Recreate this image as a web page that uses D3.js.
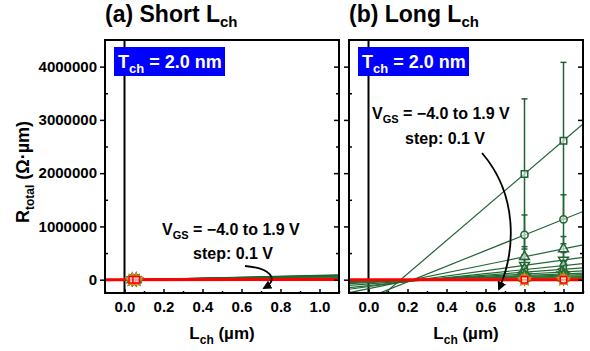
<!DOCTYPE html>
<html>
<head>
<meta charset="utf-8">
<script src="https://cdn.jsdelivr.net/npm/d3@7"></script>
<style>
body { margin: 0; background: #fff; }
svg { font-family: "Liberation Sans", Arial, sans-serif; font-weight: bold; }
</style>
</head>
<body>
<div id="chart"></div>
<script>
// measured channel lengths (µm)
const lchShort = [0.04, 0.06];
const lchLong = [0.8, 1.0];

// R_total (Ω·µm), one entry per V_GS, from −4.0 V (top) down to 1.9 V (bottom)
const shortR1 = [200, 200, 200, 200, 180, 180, 160, 160, 150, 140, 130, 120, 110, 100, 90, 80, 70, 60, 50, 40];
const shortR2 = [1900, 1750, 1600, 1480, 1360, 1250, 1150, 1050, 960, 880, 800, 720, 650, 580, 510, 440, 370, 300, 220, 120];
const shortErr = [300, 280, 260, 240, 220, 200, 180, 160, 150, 140, 130, 120, 110, 100, 90, 80, 70, 60, 50, 40];

const longR08 = [1985000, 840000, 430000, 270000, 190000, 140000, 105000, 80000, 62000, 48000, 37000, 29000, 22000, 17000, 12000, 8000, 5000, 3000, 1500, 500];
const longR10 = [2610000, 1134000, 580000, 370000, 265000, 195000, 145000, 110000, 84000, 65000, 50000, 39000, 30000, 23000, 16000, 11000, 7000, 4000, 2000, 700];
const longErr08 = [1410000, 375000, 190000, 110000, 70000, 50000, 35000, 25000, 18000, 14000, 11000, 9000, 7000, 5000, 4000, 3000, 2000, 1500, 1000, 500];
const longErr10 = [1470000, 460000, 230000, 140000, 90000, 60000, 45000, 35000, 25000, 19000, 15000, 12000, 9000, 7000, 5000, 4000, 3000, 2000, 1000, 500];

const yMajor = [0, 1000000, 2000000, 3000000, 4000000];
const yMinor = [500000, 1500000, 2500000, 3500000];
const xMajor = [0.0, 0.2, 0.4, 0.6, 0.8, 1.0];
const xMinor = [-0.1, 0.1, 0.3, 0.5, 0.7, 0.9, 1.1];

const W = 590, H = 351;
const plotTop = 40, plotBottom = 293;

const svg = d3.select("#chart").append("svg").attr("width", W).attr("height", H);

const y = d3.scaleLinear().domain([-250000, 4500000]).range([plotBottom, plotTop]);

const colorAt = d3.scaleLinear()
    .domain([0, 0.55, 0.75, 0.87, 0.94, 1])
    .range(["#1d6233", "#2b6e34", "#5f8a2c", "#a8962a", "#ff8a1c", "#ff0000"]);

const shapes = [
    {t: d3.symbolSquare, r: 0}, {t: d3.symbolCircle, r: 0}, {t: d3.symbolTriangle, r: 0},
    {t: d3.symbolTriangle, r: 180}, {t: d3.symbolDiamond, r: 0}, {t: d3.symbolTriangle, r: -90},
    {t: d3.symbolTriangle, r: 90}, {t: d3.symbolStar, r: 0}, {t: d3.symbolWye, r: 0}, {t: d3.symbolCross, r: 0}
];

const defs = svg.append("defs");
defs.append("marker").attr("id", "ah").attr("viewBox", "0 0 10 10").attr("refX", 8).attr("refY", 5)
    .attr("markerUnits", "userSpaceOnUse")
    .attr("markerWidth", 9).attr("markerHeight", 9).attr("orient", "auto")
    .append("path").attr("d", "M0,0 L10,5 L0,10 z").attr("fill", "#000");

function panel(id, x0, x1, lchs, rA, rB, eA, eB, title, ann) {
    const x = d3.scaleLinear().domain([-0.1, 1.1]).range([x0, x1]);
    const g = svg.append("g");
    defs.append("clipPath").attr("id", "clip" + id).append("rect")
        .attr("x", x0).attr("y", plotTop).attr("width", x1 - x0).attr("height", plotBottom - plotTop);
    const pg = g.append("g").attr("clip-path", `url(#clip${id})`);

    // zero line at L = 0
    pg.append("line").attr("x1", x(0)).attr("x2", x(0)).attr("y1", plotTop).attr("y2", plotBottom)
        .attr("stroke", "#000").attr("stroke-width", 2);

    const n = rA.length;
    const line = d3.line().x(d => x(d[0])).y(d => y(d[1]));
    for (let i = 0; i < n; i++) {
        const c = colorAt(i / (n - 1));
        const b = (rB[i] - rA[i]) / (lchs[1] - lchs[0]);
        const a = rA[i] - b * lchs[0];
        pg.append("path").datum([[-0.1, a - 0.1 * b], [1.1, a + 1.1 * b]])
            .attr("d", line).attr("fill", "none").attr("stroke", c)
            .attr("stroke-width", i === n - 1 ? 3 : 1.2);
    }
    for (let i = 0; i < n; i++) {
        const c = colorAt(i / (n - 1));
        const sh = i === n - 1 ? shapes[0] : shapes[i % shapes.length];
        [[lchs[0], rA[i], eA[i]], [lchs[1], rB[i], eB[i]]].forEach(([l, r, e]) => {
            const px = x(l);
            pg.append("line").attr("x1", px).attr("x2", px).attr("y1", y(r - e)).attr("y2", y(r + e))
                .attr("stroke", c).attr("stroke-width", 1.5);
            [r - e, r + e].forEach(v => pg.append("line").attr("x1", px - 3).attr("x2", px + 3)
                .attr("y1", y(v)).attr("y2", y(v)).attr("stroke", c).attr("stroke-width", 1.5));
            pg.append("path").attr("d", d3.symbol(sh.t, 42)())
                .attr("transform", `translate(${px},${y(r)}) rotate(${sh.r})`)
                .attr("fill", "#fff").attr("fill-opacity", 0.6)
                .attr("stroke", c).attr("stroke-width", 1.5);
        });
    }

    // axes
    const lab = g.append("g").attr("transform", `translate(${x0},0)`)
        .call(d3.axisLeft(y).tickValues(yMajor).tickSize(5).tickPadding(3).tickFormat(d3.format("d")));
    if (id !== "a") lab.selectAll("text").remove();
    g.append("g").attr("transform", `translate(${x0},0)`).call(d3.axisLeft(y).tickValues(yMinor).tickSize(-3).tickFormat(""));
    g.append("g").attr("transform", `translate(${x1},0)`).call(d3.axisRight(y).tickValues(yMajor).tickSize(-5).tickFormat(""));
    g.append("g").attr("transform", `translate(${x1},0)`).call(d3.axisRight(y).tickValues(yMinor).tickSize(-3).tickFormat(""));
    g.append("g").attr("transform", `translate(0,${plotBottom})`).call(d3.axisBottom(x).tickValues(xMajor).tickSize(-4).tickPadding(8).tickFormat(d3.format(".1f")));
    g.append("g").attr("transform", `translate(0,${plotBottom})`).call(d3.axisBottom(x).tickValues(xMinor).tickSize(-2).tickFormat(""));
    g.selectAll(".domain").remove();
    g.selectAll(".tick line").attr("stroke", "#000").attr("stroke-width", 1.5);
    g.selectAll(".tick text").attr("fill", "#000").attr("font-size", 15).attr("font-family", "Liberation Sans, Arial, sans-serif").attr("font-weight", "bold");

    g.append("rect").attr("x", x0).attr("y", plotTop).attr("width", x1 - x0).attr("height", plotBottom - plotTop)
        .attr("fill", "none").attr("stroke", "#000").attr("stroke-width", 2);

    // title
    const t = g.append("text").attr("x", x0).attr("y", 22).attr("font-size", 23);
    t.append("tspan").text(title);
    t.append("tspan").attr("font-size", 15).attr("dy", 5).text("ch");

    // x label
    const xl = g.append("text").attr("x", (x0 + x1) / 2).attr("y", 339).attr("font-size", 17).attr("text-anchor", "middle");
    xl.append("tspan").text("L");
    xl.append("tspan").attr("font-size", 12).attr("dy", 5).text("ch");
    xl.append("tspan").attr("dy", -5).text(" (µm)");

    // T_ch box
    g.append("rect").attr("x", x0 + 9).attr("y", 47).attr("width", 111).attr("height", 29).attr("fill", "#0000ff");
    const tb = g.append("text").attr("x", x0 + 13).attr("y", 68).attr("font-size", 18).attr("fill", "#fff");
    tb.append("tspan").text("T");
    tb.append("tspan").attr("font-size", 13).attr("dy", 5).text("ch");
    tb.append("tspan").attr("dy", -5).text(" = 2.0 nm");

    // V_GS annotation
    const va = g.append("text").attr("x", ann.vx).attr("y", ann.vy).attr("font-size", 16);
    va.append("tspan").text("V");
    va.append("tspan").attr("font-size", 11).attr("dy", 4).text("GS");
    va.append("tspan").attr("dy", -4).text(" = \u22124.0 to 1.9 V");
    g.append("text").attr("x", ann.sx).attr("y", ann.sy).attr("font-size", 16).text("step: 0.1 V");
    g.append("path").attr("d", ann.arrow).attr("fill", "none").attr("stroke", "#000")
        .attr("stroke-width", 1.8).attr("marker-end", "url(#ah)");
}

panel("a", 105, 339, lchShort, shortR1, shortR2, shortErr, shortErr, "(a) Short L",
    {vx: 162, vy: 235, sx: 193, sy: 259, arrow: "M245,266 C270,268 280,279 264,288"});
panel("b", 349, 583, lchLong, longR08, longR10, longErr08, longErr10, "(b) Long L",
    {vx: 372, vy: 119, sx: 405, sy: 144, arrow: "M482,153 C518,195 516,250 499,289"});

// y axis title
const yl = svg.append("text").attr("transform", "translate(29,172) rotate(-90)")
    .attr("font-size", 18).attr("text-anchor", "middle");
yl.append("tspan").text("R");
yl.append("tspan").attr("font-size", 12).attr("dy", 5).text("total");
yl.append("tspan").attr("dy", -5).text(" (\u03a9\u00b7\u00b5m)");
</script>
</body>
</html>
